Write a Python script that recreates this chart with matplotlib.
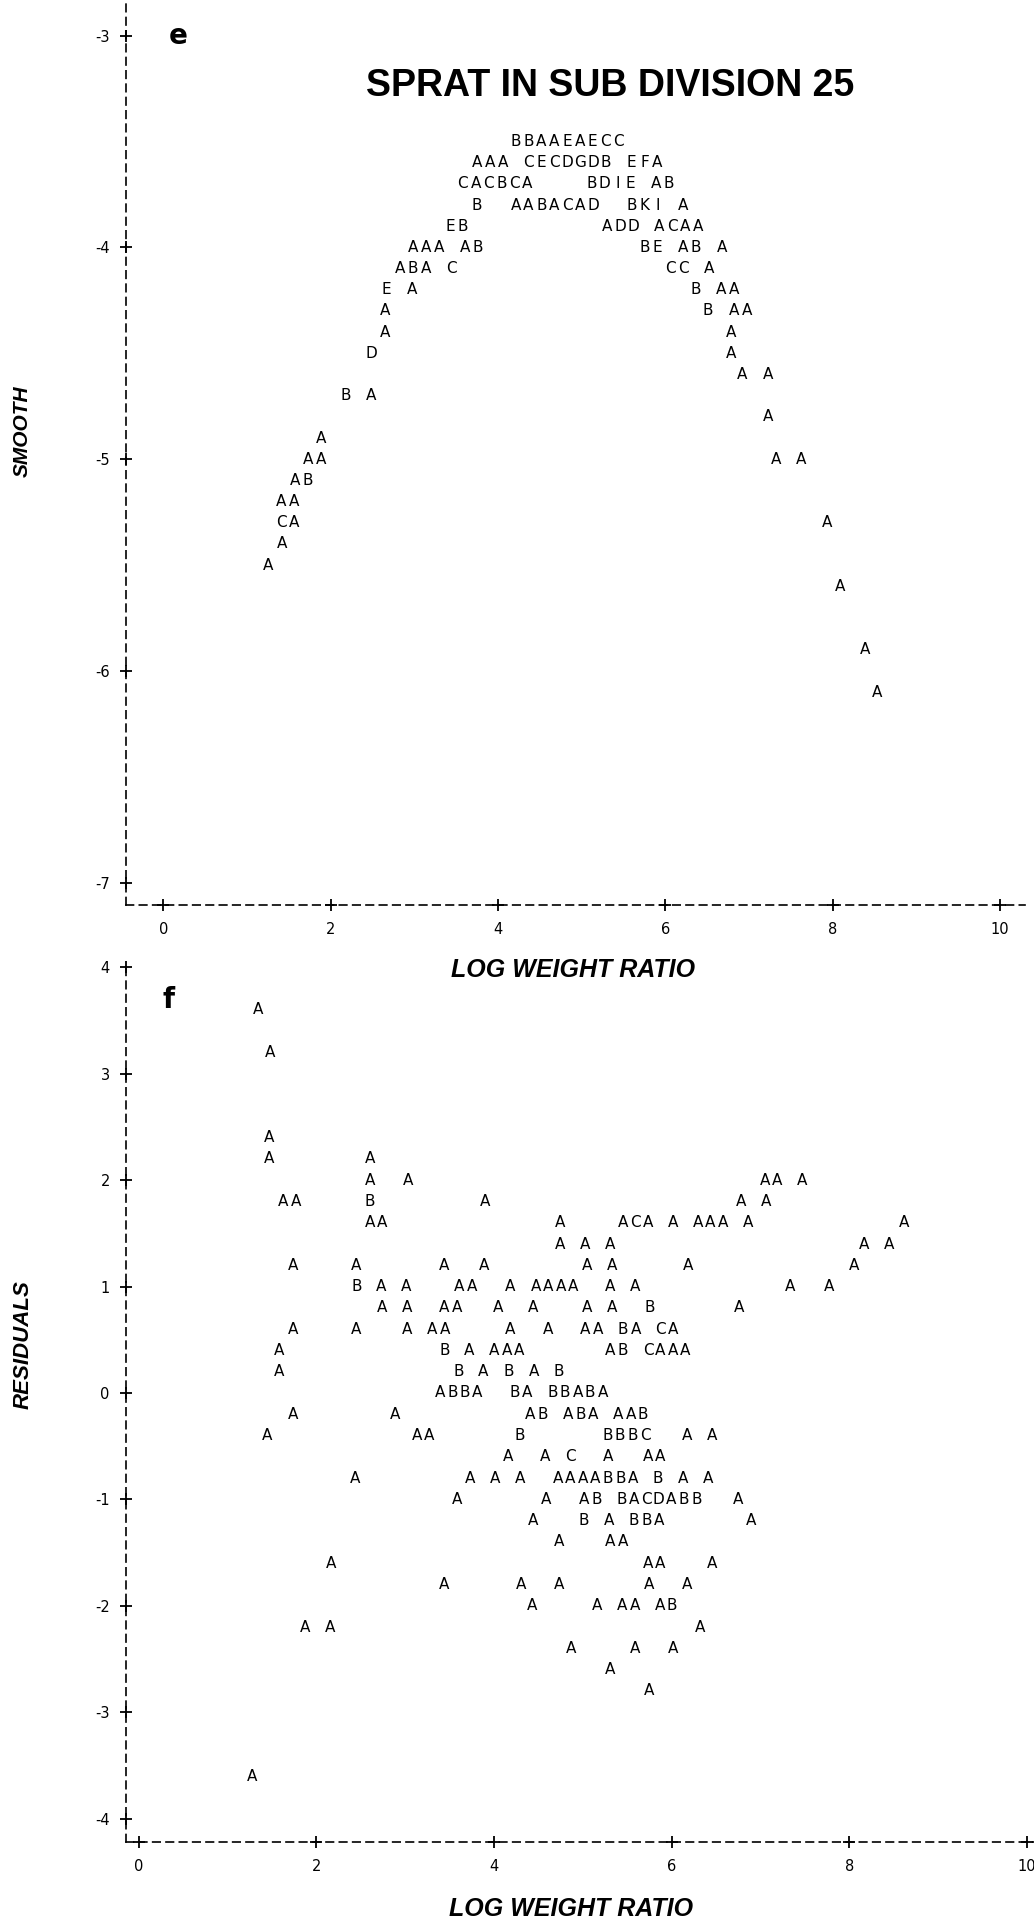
import numpy as np
import matplotlib
matplotlib.use('Agg')
import matplotlib.pyplot as plt

# line printer plot: one entry per run of symbols on a print line
# (level, x of first symbol, symbols); blank = empty column
smooth_y = [-3.5, -3.6, -3.7, -3.8, -3.9, -3.9, -4.0, -4.0, -4.1, -4.1,
            -4.2, -4.2, -4.3, -4.3, -4.4, -4.4, -4.5, -4.5, -4.6, -4.7,
            -4.8, -4.9, -5.0, -5.0, -5.1, -5.2, -5.3, -5.3, -5.4, -5.5,
            -5.6, -5.9, -6.1]
smooth_x = [4.21, 3.75, 3.58, 3.75, 3.43, 5.31, 2.99, 5.75, 2.83, 6.06,
            2.67, 6.36, 2.65, 6.51, 2.65, 6.79, 2.49, 6.79, 6.92, 2.18,
            7.23, 1.89, 1.73, 7.32, 1.57, 1.41, 1.41, 7.93, 1.42, 1.25,
            8.09, 8.39, 8.53]
smooth_txt = ["BBAAEAECC", "AAA CECDGDB EFA", "CACBCA    BDIE AB",
              "B  AABACAD  BKI A", "EB", "ADD ACAA", "AAA AB", "BE AB A",
              "ABA C", "CC A", "E A", "B AA", "A", "B AA", "A", "A", "D", "A",
              "A A", "B A", "A", "A", "AA", "A A", "AB", "AA", "CA", "A", "A",
              "A", "A", "A", "A"]

resid_y = [3.6, 3.2, 2.4, 2.2, 2.2, 2.0, 2.0, 2.0,
           1.8, 1.8, 1.8, 1.8,
           1.6, 1.6, 1.6, 1.6,
           1.4, 1.4,
           1.2, 1.2, 1.2, 1.2, 1.2, 1.2, 1.2,
           1.0, 1.0, 1.0, 1.0, 1.0, 1.0, 1.0,
           0.8, 0.8, 0.8, 0.8, 0.8, 0.8, 0.8,
           0.6, 0.6, 0.6, 0.6, 0.6, 0.6,
           0.4, 0.4, 0.4,
           0.2, 0.2,
           0.0,
           -0.2, -0.2, -0.2,
           -0.4, -0.4, -0.4, -0.4, -0.4,
           -0.6, -0.6, -0.6, -0.6,
           -0.8, -0.8, -0.8,
           -1.0, -1.0, -1.0, -1.0,
           -1.2, -1.2, -1.2,
           -1.4, -1.4,
           -1.6, -1.6, -1.6,
           -1.8, -1.8, -1.8, -1.8, -1.8,
           -2.0, -2.0,
           -2.2, -2.2,
           -2.4, -2.4, -2.4,
           -2.6, -2.8, -3.6]
resid_x = [1.34, 1.48, 1.47, 1.47, 2.60, 2.60, 3.03, 7.05,
           1.63, 2.60, 3.90, 6.78,
           2.60, 4.74, 5.45, 8.62,
           4.74, 8.17,
           1.74, 2.45, 3.44, 3.89, 5.05, 6.18, 8.05,
           2.45, 3.61, 4.18, 4.47, 5.31, 7.33, 7.77,
           2.74, 3.44, 4.04, 4.44, 5.05, 5.75, 6.76,
           1.74, 2.45, 3.02, 4.18, 4.61, 5.03,
           1.58, 3.44, 5.31,
           1.58, 3.60,
           3.39,
           1.74, 2.89, 4.41,
           1.44, 3.13, 4.29, 5.28, 6.17,
           4.16, 4.58, 5.28, 5.73,
           2.43, 3.73, 4.72,
           3.58, 4.59, 5.01, 6.75,
           4.44, 5.01, 6.89,
           4.73, 5.31,
           2.16, 5.73, 6.46,
           3.44, 4.30, 4.73, 5.74, 6.17,
           4.43, 5.16,
           1.87, 6.32,
           4.87, 5.59, 6.02,
           5.31, 5.74, 1.27]
resid_txt = ["A", "A", "A", "A", "A", "A", "A", "AA A",
             "AA", "B", "A", "A A",
             "AA", "A", "ACA A AAA A", "A",
             "A A A", "A A",
             "A", "A", "A", "A", "A A", "A", "A",
             "B A A", "AA", "A", "AAAA", "A A", "A", "A",
             "A A", "AA", "A", "A", "A A", "B", "A",
             "A", "A", "A AA", "A", "A", "AA BA CA",
             "A", "B A AAA", "AB CAAA",
             "A", "B A B A B",
             "ABBA  BA BBABA",
             "A", "A", "AB ABA AAB",
             "A", "AA", "B", "BBBC", "A A",
             "A", "A C", "A", "AA",
             "A", "A A A", "AAAABBA B A A",
             "A", "A", "AB BACDABB", "A",
             "A", "B A BBA", "A",
             "A", "AA",
             "A", "AA", "A",
             "A", "A", "A", "A", "A",
             "A", "A AA AB",
             "A A", "A",
             "A", "A", "A",
             "A", "A", "A"]

xticks = [0, 2, 4, 6, 8, 10]
smooth_ticks = [-3, -4, -5, -6, -7]
resid_ticks = [4, 3, 2, 1, 0, -1, -2, -3, -4]

LABEL = ['Liberation Sans Narrow', 'Liberation Sans', 'DejaVu Sans']


def printer_axes(ax, yticks):
    ax.patch.set_visible(False)
    for s in ['top', 'right']:
        ax.spines[s].set_visible(False)
    for s in ['left', 'bottom']:
        ax.spines[s].set_linestyle((0, (4.5, 3.5)))
        ax.spines[s].set_linewidth(1.2)
    ax.set_xticks(xticks)
    ax.set_yticks(yticks)
    ax.set_yticklabels([str(t) for t in yticks])
    ax.tick_params(length=0, labelsize=10.5, colors='black')
    ax.tick_params(axis='x', pad=12)
    ax.tick_params(axis='y', pad=12)
    x0 = ax.get_xlim()[0]
    y0 = ax.get_ylim()[0]
    # '+' marks where the ticks cross the axis lines
    ax.plot(np.full(len(yticks), x0), yticks, '+', color='black', ms=9,
            mew=1.3, clip_on=False)
    ax.plot(xticks, np.full(len(xticks), y0), '+', color='black', ms=9,
            mew=1.3, clip_on=False)


def print_symbols(ax, ys, xs, txts, col):
    for y, x, txt in zip(ys, xs, txts):
        for i, ch in enumerate(txt):
            if ch == ' ':
                continue
            ax.text(x + i * col, y, ch, ha='center', va='center',
                    fontsize=11, family='DejaVu Sans', color='black')


fig = plt.figure(figsize=(10.34, 19.25), dpi=100)

# panel e: smoothed values
ax1 = fig.add_axes([0.1223, 0.5299, 0.869, 0.4701])
ax1.set_xlim(-0.44, 10.3)
ax1.set_ylim(-7.104, -2.832)
printer_axes(ax1, smooth_ticks)
print_symbols(ax1, smooth_y, smooth_x, smooth_txt, 0.154)
ax1.text(0.18, -3.0, 'e', fontsize=20, fontweight='bold', ha='center',
         va='center')
fig.text(0.022, 1 - 431 / 1925, 'SMOOTH', rotation=90, ha='center',
         va='center', fontsize=15, fontweight='bold', style='italic',
         family=LABEL)
fig.text(0.554, 1 - 970 / 1925, 'LOG WEIGHT RATIO', ha='center',
         va='center', fontsize=18, fontweight='bold', style='italic',
         family=LABEL)
fig.text(0.59, 1 - 86 / 1925, 'SPRAT IN SUB DIVISION 25', ha='center',
         va='center', fontsize=27, fontweight='bold', family=LABEL)

# panel f: residuals
ax2 = fig.add_axes([0.1223, 0.0431, 0.8777, 0.4566])
ax2.set_xlim(-0.139, 10.08)
ax2.set_ylim(-4.22, 4.04)
printer_axes(ax2, resid_ticks)
print_symbols(ax2, resid_y, resid_x, resid_txt, 0.141)
ax2.text(0.33, 3.69, 'f', fontsize=20, fontweight='bold', ha='center',
         va='center')
fig.text(0.022, 1 - 1345 / 1925, 'RESIDUALS', rotation=90, ha='center',
         va='center', fontsize=16, fontweight='bold', style='italic',
         family=LABEL)
fig.text(0.552, 1 - 1909 / 1925, 'LOG WEIGHT RATIO', ha='center',
         va='center', fontsize=18, fontweight='bold', style='italic',
         family=LABEL)

fig.savefig('out.png', dpi=100)
